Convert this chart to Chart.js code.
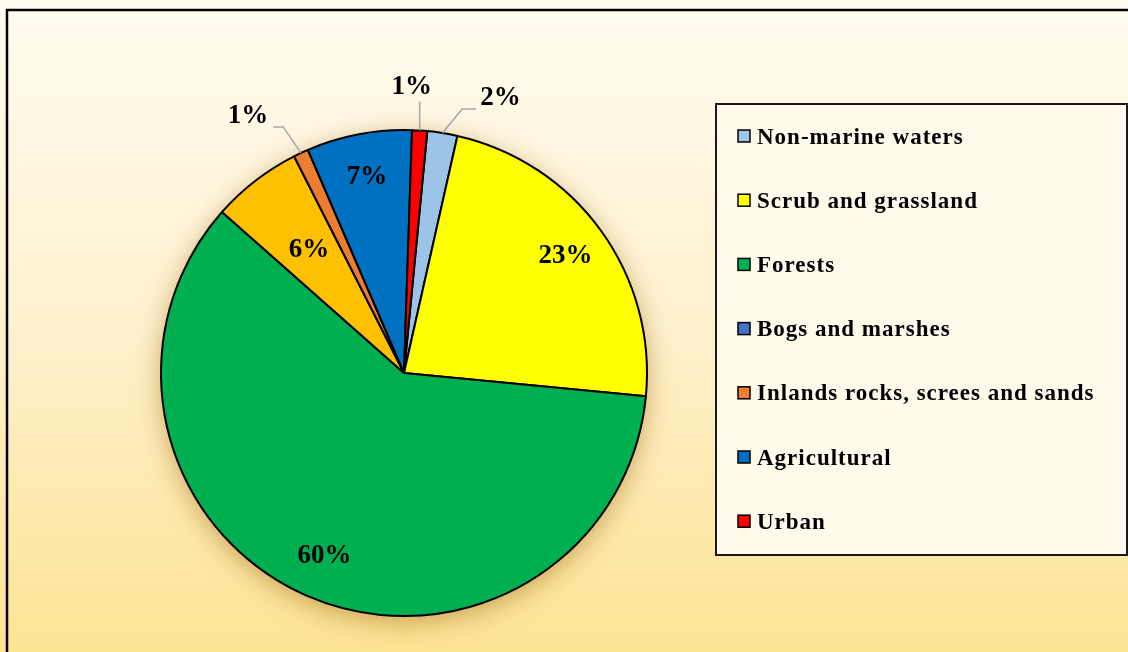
<!DOCTYPE html>
<html>
<head>
<meta charset="utf-8">
<title>Land cover</title>
<script src="https://cdn.jsdelivr.net/npm/chart.js@4/dist/chart.umd.min.js"></script>
<style>
  html, body { margin: 0; padding: 0; background: #fff; }
  canvas { display: block; }
</style>
</head>
<body>
<canvas id="landChart" width="1128" height="652"></canvas>
<script>
// land cover shares, in percent
var categories = ['Non-marine waters', 'Scrub and grassland', 'Forests', 'Bogs and marshes',
                  'Inlands rocks, screes and sands', 'Agricultural', 'Urban'];
var shares = [2, 23, 60, 6, 1, 7, 1];
var sliceColors = ['#9DC3E6', '#FFFF00', '#00B050', '#FFC000', '#ED7D31', '#0070C0', '#FF0000'];
var legendColors = ['#9DC3E6', '#FFFF00', '#00B050', '#4472C4', '#ED7D31', '#0070C0', '#FF0000'];

var serif = '"Liberation Serif", "Times New Roman", serif';

// inside labels sit at a share of the radius, small slices get a label outside
// with a grey leader line (dx/dy = label offset from the rim point)
var labelPlacement = [
  { out: true, dx: 58, dy: -35, side: 'right' },
  { r: 0.82 },
  { r: 0.82 },
  { r: 0.64 },
  { out: true, dx: -53, dy: -37, side: 'left' },
  { r: 0.82 },
  { out: true, dx: -8, dy: -43, side: 'up' }
];

// page background, frame and the soft shadow under the pie
const backdrop = {
  id: 'backdrop',
  beforeDraw(chart) {
    const { ctx, width, height } = chart;
    ctx.save();
    const g = ctx.createLinearGradient(0, 0, 0, height);
    g.addColorStop(0, '#FFFBF0');
    g.addColorStop(0.5, '#FEF1CE');
    g.addColorStop(1, '#FDE394');
    ctx.fillStyle = g;
    ctx.fillRect(0, 0, width, height);
    ctx.strokeStyle = '#000';
    ctx.lineWidth = 2.5;
    ctx.beginPath();
    ctx.moveTo(7, height);
    ctx.lineTo(7, 10);
    ctx.lineTo(width, 10);
    ctx.stroke();
    ctx.restore();
  },
  beforeDatasetsDraw(chart) {
    const arc = chart.getDatasetMeta(0).data[0];
    if (!arc) return;
    const p = arc.getProps(['x', 'y', 'outerRadius'], true);
    const ctx = chart.ctx;
    ctx.save();
    ctx.shadowColor = 'rgba(160, 110, 20, 0.55)';
    ctx.shadowBlur = 26;
    ctx.shadowOffsetY = 6;
    ctx.fillStyle = '#00B050';
    ctx.beginPath();
    ctx.arc(p.x, p.y, p.outerRadius, 0, Math.PI * 2);
    ctx.fill();
    ctx.restore();
  }
};

// percentage labels
const pctLabels = {
  id: 'pctLabels',
  afterDatasetsDraw(chart, args, opts) {
    const ctx = chart.ctx;
    const meta = chart.getDatasetMeta(0);
    const values = chart.data.datasets[0].data;
    ctx.save();
    ctx.font = 'bold 27px ' + serif;
    ctx.fillStyle = '#000';
    ctx.textAlign = 'center';
    ctx.textBaseline = 'middle';
    ctx.strokeStyle = '#A6A6A6';
    ctx.lineWidth = 1.5;
    meta.data.forEach((arc, i) => {
      const p = arc.getProps(['x', 'y', 'startAngle', 'endAngle', 'outerRadius'], true);
      const mid = (p.startAngle + p.endAngle) / 2;
      const text = values[i] + '%';
      const place = opts.placement[i];
      if (!place.out) {
        const rr = p.outerRadius * place.r;
        ctx.fillText(text, p.x + Math.cos(mid) * rr, p.y + Math.sin(mid) * rr);
        return;
      }
      const ex = p.x + Math.cos(mid) * p.outerRadius;
      const ey = p.y + Math.sin(mid) * p.outerRadius;
      const lx = ex + place.dx, ly = ey + place.dy;
      const half = ctx.measureText(text).width / 2;
      ctx.beginPath();
      ctx.moveTo(ex, ey);
      if (place.side === 'up') {
        ctx.lineTo(ex, ly + 14);
      } else if (place.side === 'right') {
        ctx.lineTo(lx - half - 18, ly + 11);
        ctx.lineTo(lx - half - 4, ly + 11);
      } else {
        ctx.lineTo(lx + half + 15, ly + 11);
        ctx.lineTo(lx + half + 5, ly + 11);
      }
      ctx.stroke();
      ctx.fillText(text, lx, ly);
    });
    ctx.restore();
  }
};

// boxed legend on the right
const sideLegend = {
  id: 'sideLegend',
  afterDraw(chart) {
    const ctx = chart.ctx;
    ctx.save();
    ctx.fillStyle = '#FFFAEC';
    ctx.fillRect(716, 104, 411, 451);
    ctx.strokeStyle = '#1A1A1A';
    ctx.lineWidth = 2;
    ctx.strokeRect(716, 104, 411, 451);

    ctx.font = 'bold 23px ' + serif;
    if ('letterSpacing' in ctx) ctx.letterSpacing = '1px';
    ctx.textBaseline = 'alphabetic';
    ctx.textAlign = 'left';
    categories.forEach((name, i) => {
      const top = 130 + i * 64.2;
      ctx.fillStyle = legendColors[i];
      ctx.fillRect(738, top, 12, 12);
      ctx.strokeStyle = '#000';
      ctx.lineWidth = 1.5;
      ctx.strokeRect(738, top, 12, 12);
      ctx.fillStyle = '#000';
      ctx.fillText(name, 757, top + 13.5);
    });
    ctx.restore();
  }
};

new Chart(document.getElementById('landChart'), {
  type: 'pie',
  data: {
    labels: categories,
    datasets: [{
      data: shares,
      backgroundColor: sliceColors,
      borderColor: '#000',
      borderWidth: 2
    }]
  },
  options: {
    responsive: false,
    animation: false,
    rotation: 5.5,
    layout: { padding: { left: 160, right: 480, top: 128, bottom: 34 } },
    plugins: {
      legend: { display: false },
      tooltip: { enabled: false },
      pctLabels: { placement: labelPlacement }
    }
  },
  plugins: [backdrop, pctLabels, sideLegend]
});
</script>
</body>
</html>
